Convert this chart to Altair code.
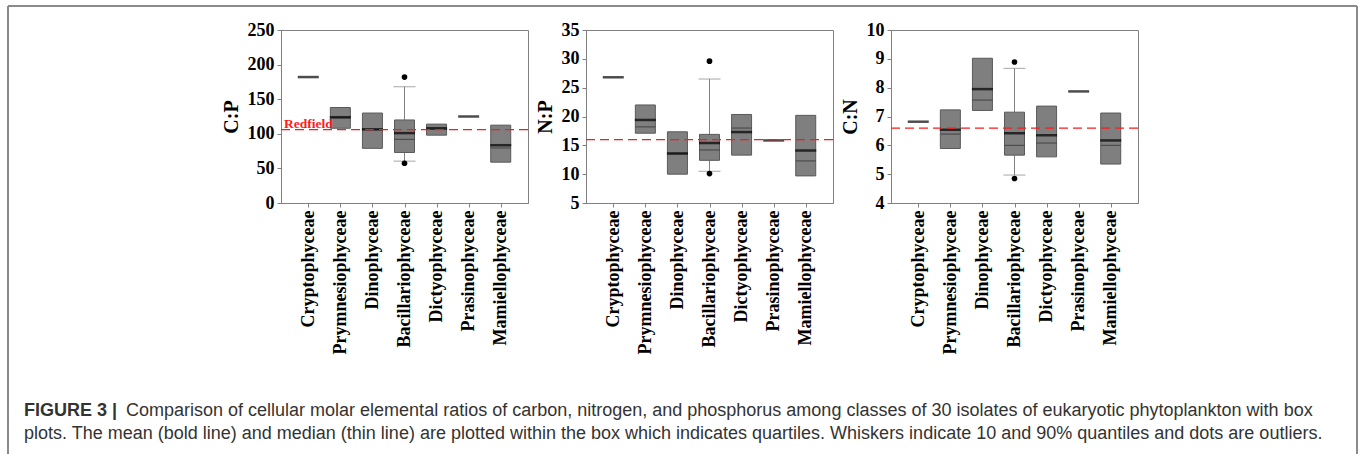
import altair as alt
import pandas as pd

classes = ["Cryptophyceae", "Prymnesiophyceae", "Dinophyceae", "Bacillariophyceae",
           "Dictyophyceae", "Prasinophyceae", "Mamiellophyceae"]

# C:P
cp_q1 = [None, 108, 79, 73, 98, None, 59]
cp_q3 = [None, 138, 130, 120, 114, None, 112.5]
cp_mean = [182, 124, 106.5, 101, 107.5, 125, 83.5]
cp_median = [None, 123, 106, 92, 109, None, 79.5]
cp_wlo = [None, None, None, 60.5, None, None, None]
cp_whi = [None, None, None, 168, None, None, None]
cp_out_cls = ["Bacillariophyceae", "Bacillariophyceae"]
cp_out_val = [182, 57.5]
cp_redfield = 106

# N:P
np_q1 = [None, 17.1, 10.0, 12.4, 13.3, None, 9.7]
np_q3 = [None, 22.0, 17.35, 16.9, 20.35, None, 20.2]
np_mean = [26.8, 19.4, 13.6, 15.4, 17.3, 15.85, 14.1]
np_median = [None, 18.2, 13.5, 14.2, 18.0, None, 12.3]
np_wlo = [None, None, None, 10.5, None, None, None]
np_whi = [None, None, None, 26.5, None, None, None]
np_out_cls = ["Bacillariophyceae", "Bacillariophyceae"]
np_out_val = [29.6, 10.1]
np_redfield = 16

# C:N
cn_q1 = [None, 5.89, 7.21, 5.66, 5.6, None, 5.35]
cn_q3 = [None, 7.23, 9.02, 7.15, 7.36, None, 7.12]
cn_mean = [6.82, 6.54, 7.95, 6.42, 6.35, 7.87, 6.17]
cn_median = [None, 6.39, 7.57, 6.0, 6.08, None, 6.0]
cn_wlo = [None, None, None, 4.97, None, None, None]
cn_whi = [None, None, None, 8.67, None, None, None]
cn_out_cls = ["Bacillariophyceae", "Bacillariophyceae"]
cn_out_val = [8.89, 4.85]
cn_redfield = 6.6

cp_ticks = [0, 50, 100, 150, 200, 250]
np_ticks = [5, 10, 15, 20, 25, 30, 35]
cn_ticks = [4, 5, 6, 7, 8, 9, 10]

caption_bold = "FIGURE 3 |"
caption_1 = ("Comparison of cellular molar elemental ratios of carbon, nitrogen, and phosphorus "
             "among classes of 30 isolates of eukaryotic phytoplankton with box")
caption_2 = ("plots. The mean (bold line) and median (thin line) are plotted within the box which "
             "indicates quartiles. Whiskers indicate 10 and 90% quantiles and dots are outliers.")

SERIF = "Liberation Serif"
SANS = "Liberation Sans"
GRAY = "#808080"
RED = "#ff1a1a"
W, H = 247, 173


def panel(q1, q3, mean, median, wlo, whi, out_cls, out_val, ticks, title, redfield,
          label=False, extras=None):
    df = pd.DataFrame({"cls": classes, "q1": q1, "q3": q3, "mean": mean,
                       "median": median, "wlo": wlo, "whi": whi})
    dout = pd.DataFrame({"cls": out_cls, "val": out_val})
    x = alt.X("cls:N", sort=classes,
              scale=alt.Scale(type="point", padding=0.85),
              axis=alt.Axis(title=None, labelAngle=-90, labelFont=SERIF,
                            labelFontWeight="bold", labelFontSize=18,
                            labelColor="black", tickSize=4, tickColor=GRAY,
                            domainColor=GRAY, labelPadding=3, labelOverlap=False))
    yscale = alt.Scale(domain=[ticks[0], ticks[-1]], nice=False, zero=False)
    yaxis = alt.Axis(values=ticks, tickCount=20, format="d", title=title, titleFont=SERIF,
                     titleFontWeight="bold", titleFontSize=20, titleColor="black",
                     titlePadding=6, labelFont=SERIF, labelFontWeight="bold",
                     labelFontSize=18, labelColor="black", tickSize=4, tickColor=GRAY,
                     domainColor=GRAY, labelPadding=3, grid=False, labelOverlap=False)

    def Y(f):
        return alt.Y(f, type="quantitative", scale=yscale, axis=yaxis)

    base = alt.Chart(df)
    layers = [
        base.mark_rule(color=GRAY, strokeWidth=1).encode(x=x, y=Y("wlo"), y2="q1:Q"),
        base.mark_rule(color=GRAY, strokeWidth=1).encode(x=x, y=Y("q3"), y2="whi:Q"),
        base.mark_tick(color=GRAY, thickness=1, size=22).encode(x=x, y=Y("wlo")),
        base.mark_tick(color=GRAY, thickness=1, size=22).encode(x=x, y=Y("whi")),
        base.mark_bar(size=20, color="#7f7f7f", stroke="#5a5a5a", strokeWidth=1).encode(
            x=x, y=Y("q1"), y2="q3:Q"),
        base.mark_tick(color="#2a2a2a", thickness=1, size=20).encode(x=x, y=Y("median")),
        base.mark_tick(color="black", thickness=2.5, size=21).encode(x=x, y=Y("mean")),
        alt.Chart(dout).mark_circle(color="black", opacity=1, size=32).encode(
            x=x, y=Y("val")),
        alt.Chart(alt.Data(values=[{}])).mark_rule(
            color=RED, strokeWidth=1.3, strokeDash=[9, 5]).encode(y=alt.datum(redfield)),
    ]
    if label:
        layers.append(
            alt.Chart(alt.Data(values=[{}])).mark_text(
                text="Redfield", color=RED, font=SERIF, fontWeight="bold", fontSize=13.5,
                align="left", baseline="alphabetic", dy=-2).encode(
                x=alt.value(3), y=alt.datum(redfield)))
    if extras:
        layers.extend(extras)
    return alt.layer(*layers).properties(width=W, height=H)


one = alt.Data(values=[{}])
FX0, FY0 = -273, -24
FX1, FY1 = 1076, 424
CAP = 18
frame = [
    alt.Chart(one).mark_rule(color="#8a8a8a", strokeWidth=2).encode(
        x=alt.value(FX0), y=alt.value(FY0), y2=alt.value(FY1)),
    alt.Chart(one).mark_rule(color="#8a8a8a", strokeWidth=2).encode(
        x=alt.value(FX0), x2=alt.value(FX1), y=alt.value(FY0)),
    alt.Chart(one).mark_rule(color="#8a8a8a", strokeWidth=2).encode(
        x=alt.value(FX1), y=alt.value(FY0), y2=alt.value(FY1)),
    alt.Chart(one).mark_text(text=caption_bold, font=SANS, fontWeight="bold", fontSize=CAP,
                             color="#333333", align="left", baseline="alphabetic").encode(
        x=alt.value(-257), y=alt.value(386)),
    alt.Chart(one).mark_text(text=caption_1, font=SANS, fontSize=CAP,
                             color="#333333", align="left", baseline="alphabetic").encode(
        x=alt.value(-155), y=alt.value(386)),
    alt.Chart(one).mark_text(text=caption_2, font=SANS, fontSize=CAP,
                             color="#333333", align="left", baseline="alphabetic").encode(
        x=alt.value(-257), y=alt.value(409)),
]

p1 = panel(cp_q1, cp_q3, cp_mean, cp_median, cp_wlo, cp_whi, cp_out_cls, cp_out_val,
           cp_ticks, "C:P", cp_redfield, label=True, extras=frame)
p2 = panel(np_q1, np_q3, np_mean, np_median, np_wlo, np_whi, np_out_cls, np_out_val,
           np_ticks, "N:P", np_redfield)
p3 = panel(cn_q1, cn_q3, cn_mean, cn_median, cn_wlo, cn_whi, cn_out_cls, cn_out_val,
           cn_ticks, "C:N", cn_redfield)

chart = alt.hconcat(p1, p2, p3, spacing=58, bounds="flush").properties(
    padding={"left": 6, "top": 4, "right": 0, "bottom": 0},
    background="white",
).configure_view(stroke=GRAY, strokeWidth=1).configure_axis(grid=False, labelOverlap=False)

chart.save("out.html", embed_options={"renderer": "svg", "actions": False})
